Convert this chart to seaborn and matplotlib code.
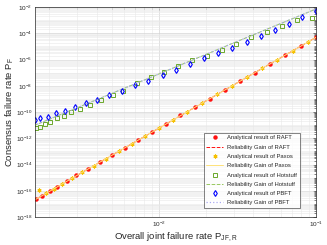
import matplotlib
matplotlib.use("Agg")
import matplotlib.pyplot as plt
import seaborn as sns
import numpy as np
import pandas as pd
from matplotlib.ticker import FixedLocator, LogLocator, NullFormatter, LogFormatterSciNotation

sns.set_style("white")
plt.rcParams['font.family'] = ['Liberation Sans', 'DejaVu Sans']
plt.rcParams['mathtext.default'] = 'regular'

# Analytical results
raft_x = [0.00164, 0.00180, 0.00201, 0.00225, 0.00260, 0.00297, 0.00353, 0.00419, 0.00502, 0.00607,
          0.00738, 0.0090, 0.0111, 0.0136, 0.0169, 0.0211, 0.0263, 0.0328, 0.0408, 0.0509, 0.0635, 0.0802, 0.1]
raft_y = [2.24e-17, 4.2e-17, 1.05e-16, 2.1e-16, 5.5e-16, 1.48e-15, 4.6e-15, 1.55e-14, 5.6e-14, 2.0e-13,
          7.9e-13, 3.2e-12, 1.32e-11, 5.5e-11, 2.4e-10, 1.07e-9, 4.8e-9, 2.3e-8, 1.02e-7, 4.9e-7, 2.2e-6, 1.10e-5, 4.9e-5]

paxos_x = [0.001718, 0.001902, 0.002127, 0.002419, 0.002779, 0.003238, 0.003846, 0.004586, 0.00552, 0.00669,
           0.00815, 0.00999, 0.01229, 0.01516, 0.01888, 0.02356, 0.02937, 0.03658, 0.04557, 0.05685, 0.07136, 0.08955]
paxos_y = [1.1e-16, 6.3e-17, 1.38e-16, 3.3e-16, 8.7e-16, 2.5e-15, 8.1e-15, 2.75e-14, 1.0e-13, 3.7e-13,
           1.48e-12, 6.0e-12, 2.5e-11, 1.07e-10, 4.9e-10, 2.24e-9, 1.02e-8, 4.7e-8, 2.1e-7, 1.0e-6, 4.7e-6, 2.3e-5]

hotstuff_x = [0.00164, 0.00174, 0.00187, 0.00203, 0.00224, 0.00247, 0.00276, 0.00313, 0.00362, 0.00429,
              0.00509, 0.00590, 0.00719, 0.00883, 0.01084, 0.01331, 0.01633, 0.02013, 0.02508, 0.03090,
              0.03855, 0.04852, 0.06047, 0.07534, 0.09430]
hotstuff_y = [5.8e-12, 7.6e-12, 1.15e-11, 1.8e-11, 3.3e-11, 5.0e-11, 9.5e-11, 1.7e-10, 3.4e-10, 8.1e-10,
              2.0e-9, 4.0e-9, 1.6e-8, 4.4e-8, 1.22e-7, 3.3e-7, 9.1e-7, 1.85e-6, 5.8e-6, 1.6e-5,
              5.2e-5, 1.35e-4, 3.8e-4, 9.8e-4, 1.45e-3]

pbft_x = [0.001614, 0.001753, 0.001963, 0.002217, 0.002531, 0.002904, 0.003412, 0.004027, 0.004804, 0.00577,
          0.007034, 0.008549, 0.01057, 0.01284, 0.01575, 0.01935, 0.02388, 0.02941, 0.03622, 0.04467,
          0.05485, 0.06731, 0.08145, 0.1]
pbft_y = [2.45e-11, 3.3e-11, 4.4e-11, 7.9e-11, 1.23e-10, 2.24e-10, 4.6e-10, 8.1e-10, 1.95e-9, 4.2e-9,
          1.15e-8, 2.4e-8, 6.6e-8, 1.58e-7, 4.6e-7, 1.23e-6, 2.95e-6, 7.9e-6, 2.3e-5, 6.2e-5,
          1.78e-4, 5.5e-4, 1.74e-3, 5.4e-3]

# Reliability gain curves
gain_x = [0.0016, 0.003, 0.01, 0.03, 0.1]
raft_gain = [1.9e-17, 1.5e-15, 6.0e-12, 1.2e-8, 4.9e-5]
paxos_gain = [1.9e-17, 1.5e-15, 6.0e-12, 1.2e-8, 4.9e-5]
hotstuff_gain = [9.5e-12, 2.1e-10, 8.1e-8, 1.9e-5, 7.1e-3]
pbft_gain = [9.5e-12, 2.1e-10, 8.1e-8, 1.9e-5, 7.1e-3]

fig = plt.figure(figsize=(3.27, 2.45), dpi=100)
ax = fig.add_axes([0.107, 0.114, 0.859, 0.857])

red = '#ff1010'
yellow = '#f5c000'
green = '#6aa82a'
blue = '#0000ff'

ax.plot(raft_x, raft_y, linestyle='none', marker='o', ms=2.2, color=red, label='Analytical result of RAFT')
sns.lineplot(x=gain_x, y=raft_gain, ax=ax, color=red, linestyle='--', lw=0.7, label='Reliability Gain of RAFT')
ax.plot(paxos_x, paxos_y, linestyle='none', marker=(6, 2, 0), ms=2.8, mew=0.8, color=yellow,
        label='Analytical result of Paxos')
sns.lineplot(x=gain_x, y=paxos_gain, ax=ax, color='#ffe27a', linestyle='-', lw=0.7, label='Reliability Gain of Paxos')
ax.plot(hotstuff_x, hotstuff_y, linestyle='none', marker='s', ms=2.5, mfc='none', mew=0.7, color=green,
        label='Analytical result of Hotstuff')
sns.lineplot(x=gain_x, y=hotstuff_gain, ax=ax, color='#98c860', linestyle='--', lw=0.7,
             label='Reliability Gain of Hotstuff')
ax.plot(pbft_x, pbft_y, linestyle='none', marker='d', ms=3.0, mfc='none', mew=0.8, color=blue,
        label='Analytical result of PBFT')
sns.lineplot(x=gain_x, y=pbft_gain, ax=ax, color='#a8a8f0', linestyle=':', lw=0.9, label='Reliability Gain of PBFT')

ax.set_xscale('log')
ax.set_yscale('log')
ax.set_xlim(1.62e-3, 0.1)
ax.set_ylim(1e-18, 1e-2)

ax.yaxis.set_major_locator(FixedLocator(10.0 ** np.arange(-18, -1, 2)))
ax.yaxis.set_major_formatter(LogFormatterSciNotation())
ax.yaxis.set_minor_locator(LogLocator(base=10, subs=np.arange(1, 10), numticks=100))
ax.yaxis.set_minor_formatter(NullFormatter())
ax.xaxis.set_major_locator(FixedLocator([1e-2, 1e-1]))
ax.xaxis.set_minor_locator(LogLocator(base=10, subs=np.arange(2, 10), numticks=100))
ax.xaxis.set_minor_formatter(NullFormatter())

ax.grid(True, which='major', color='#d4d4d4', lw=0.5)
ax.grid(True, which='minor', color='#e8e8e8', lw=0.4)
ax.tick_params(which='both', direction='in', top=True, right=True, labelsize=4.6, pad=2,
               length=2, width=0.4, colors='#262626')
ax.tick_params(which='minor', length=1.2)
for s in ax.spines.values():
    s.set_color('#262626')
    s.set_linewidth(0.5)

ax.set_xlabel('Overall joint failure rate P$_{JF,R}$', fontsize=6.8)
ax.set_ylabel('Consensus failure rate P$_F$', fontsize=6.8)
ax.xaxis.set_label_coords(0.5, -0.065)
ax.yaxis.set_label_coords(-0.068, 0.5)

leg = ax.legend(loc='lower right', fontsize=4.2, frameon=True, fancybox=False, edgecolor='#262626',
                labelspacing=0.72, handlelength=2.9, handletextpad=0.7, borderpad=0.45,
                borderaxespad=0, bbox_to_anchor=(0.943, 0.043))
leg.get_frame().set_linewidth(0.5)

fig.savefig('out.png', dpi=100)
